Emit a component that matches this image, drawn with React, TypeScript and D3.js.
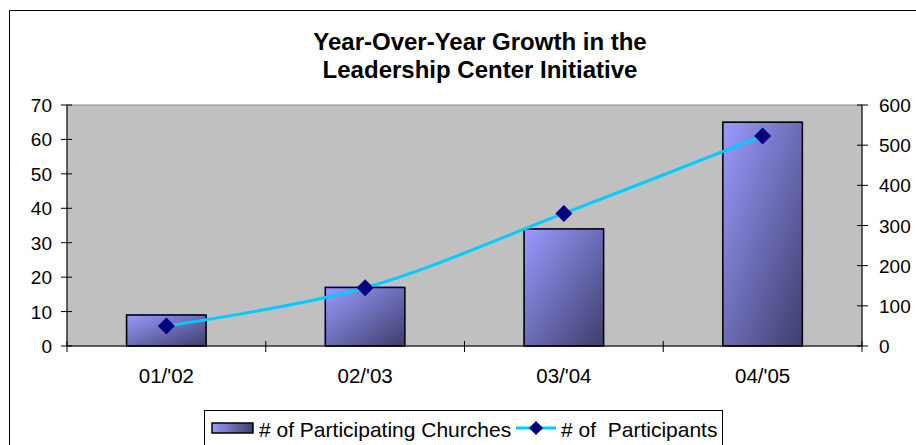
import React from "react";
import * as d3 from "d3";

const categories = ["01/'02", "02/'03", "03/'04", "04/'05"];
const churches = [9, 17, 34, 65];
const participants = [50, 145, 330, 523];
const leftTicks = [0, 10, 20, 30, 40, 50, 60, 70];
const rightTicks = [0, 100, 200, 300, 400, 500, 600];

const W = 916;
const H = 445;
const plot = { left: 67, right: 862, top: 105, bottom: 346 };
const FONT = "'Liberation Sans', Arial, sans-serif";

export default function App() {
  const x = d3
    .scaleBand<string>()
    .domain(categories)
    .range([plot.left, plot.right])
    .paddingInner(0.6)
    .paddingOuter(0.3);
  const xc = d3.scaleBand<string>().domain(categories).range([plot.left, plot.right]);
  const yL = d3.scaleLinear().domain([0, 70]).range([plot.bottom, plot.top]);
  const yR = d3.scaleLinear().domain([0, 600]).range([plot.bottom, plot.top]);

  const pts: [number, number][] = categories.map((c, i) => [
    (xc(c) as number) + xc.bandwidth() / 2,
    yR(participants[i]),
  ]);
  const line = d3.line().curve(d3.curveCatmullRom.alpha(0))(pts) || "";

  const diamond = (cx: number, cy: number, r: number) =>
    `M${cx},${cy - r}L${cx + r},${cy}L${cx},${cy + r}L${cx - r},${cy}Z`;

  const boundaries = [...categories.map((c) => xc(c) as number), plot.right];

  return (
    <svg
      width={W}
      height={H}
      style={{ position: "absolute", left: 0, top: 0 }}
      fontFamily={FONT}
    >
      <defs>
        <linearGradient id="barGrad" x1="0" y1="0" x2="1" y2="1">
          <stop offset="0%" stopColor="#9a9aff" />
          <stop offset="100%" stopColor="#3e3e6c" />
        </linearGradient>
        <linearGradient id="legGrad" x1="0" y1="0" x2="1" y2="0">
          <stop offset="0%" stopColor="#9a9aff" />
          <stop offset="100%" stopColor="#3e3e6c" />
        </linearGradient>
      </defs>
      <rect x={0} y={0} width={W} height={H} fill="#ffffff" />
      {/* outer chart border */}
      <path d={`M9.5,${H}V10.5H${W}`} fill="none" stroke="#000" strokeWidth={1} />

      {/* title */}
      <text x={480} y={50} textAnchor="middle" fontSize={24} fontWeight="bold" fill="#000">
        Year-Over-Year Growth in the
      </text>
      <text x={480} y={78} textAnchor="middle" fontSize={24} fontWeight="bold" fill="#000">
        Leadership Center Initiative
      </text>

      {/* plot area */}
      <rect
        x={plot.left}
        y={plot.top}
        width={plot.right - plot.left}
        height={plot.bottom - plot.top}
        fill="#c0c0c0"
        stroke="#8c8c8c"
        strokeWidth={1}
      />

      {/* bars */}
      {categories.map((c, i) => (
        <g key={c}>
          <rect
            x={(x(c) as number) - 1}
            y={yL(churches[i]) - 1}
            width={x.bandwidth()}
            height={plot.bottom - yL(churches[i])}
            fill="#7777ee"
          />
          <rect
            x={x(c) as number}
            y={yL(churches[i])}
            width={x.bandwidth()}
            height={plot.bottom - yL(churches[i])}
            fill="url(#barGrad)"
            stroke="#000"
            strokeWidth={1.5}
          />
        </g>
      ))}

      {/* axes */}
      <line x1={plot.left} x2={plot.left} y1={plot.top} y2={plot.bottom} stroke="#000" />
      <line x1={plot.right} x2={plot.right} y1={plot.top} y2={plot.bottom} stroke="#000" />
      <line x1={plot.left} x2={plot.right} y1={plot.bottom} y2={plot.bottom} stroke="#000" strokeWidth={1.2} />

      {leftTicks.map((t) => (
        <g key={"l" + t}>
          <line x1={plot.left - 6} x2={plot.left + 5} y1={yL(t)} y2={yL(t)} stroke="#000" />
          <text x={52} y={yL(t) + 7} textAnchor="end" fontSize={19} fill="#000">
            {t}
          </text>
        </g>
      ))}
      {rightTicks.map((t) => (
        <g key={"r" + t}>
          <line x1={plot.right - 5} x2={plot.right + 6} y1={yR(t)} y2={yR(t)} stroke="#000" />
          <text x={879} y={yR(t) + 7} textAnchor="start" fontSize={19} fill="#000">
            {t}
          </text>
        </g>
      ))}
      {boundaries.map((b, i) => (
        <line key={"b" + i} x1={b} x2={b} y1={plot.bottom - 5} y2={plot.bottom + 6} stroke="#000" />
      ))}
      {categories.map((c) => (
        <text
          key={"c" + c}
          x={(xc(c) as number) + xc.bandwidth() / 2}
          y={383}
          textAnchor="middle"
          fontSize={20.5}
          fill="#000"
        >
          {c}
        </text>
      ))}

      {/* line series */}
      <path d={line} fill="none" stroke="#00ccff" strokeWidth={3} />
      {pts.map((p, i) => (
        <path key={"m" + i} d={diamond(p[0], p[1], 8.5)} fill="#000080" />
      ))}

      {/* legend */}
      <rect x={204.5} y={410.5} width={518} height={50} fill="#fff" stroke="#000" strokeWidth={1} />
      <rect x={212} y={423} width={41} height={10} fill="url(#legGrad)" stroke="#000" strokeWidth={1.5} />
      <text x={259} y={437} fontSize={21} fill="#000">
        # of Participating Churches
      </text>
      <line x1={516} x2={556} y1={428} y2={428} stroke="#00ccff" strokeWidth={3} />
      <path d={diamond(536, 428, 7)} fill="#000080" />
      <text x={561} y={437} fontSize={21} fill="#000" style={{ whiteSpace: "pre" }}>
        {"# of  Participants"}
      </text>
    </svg>
  );
}
